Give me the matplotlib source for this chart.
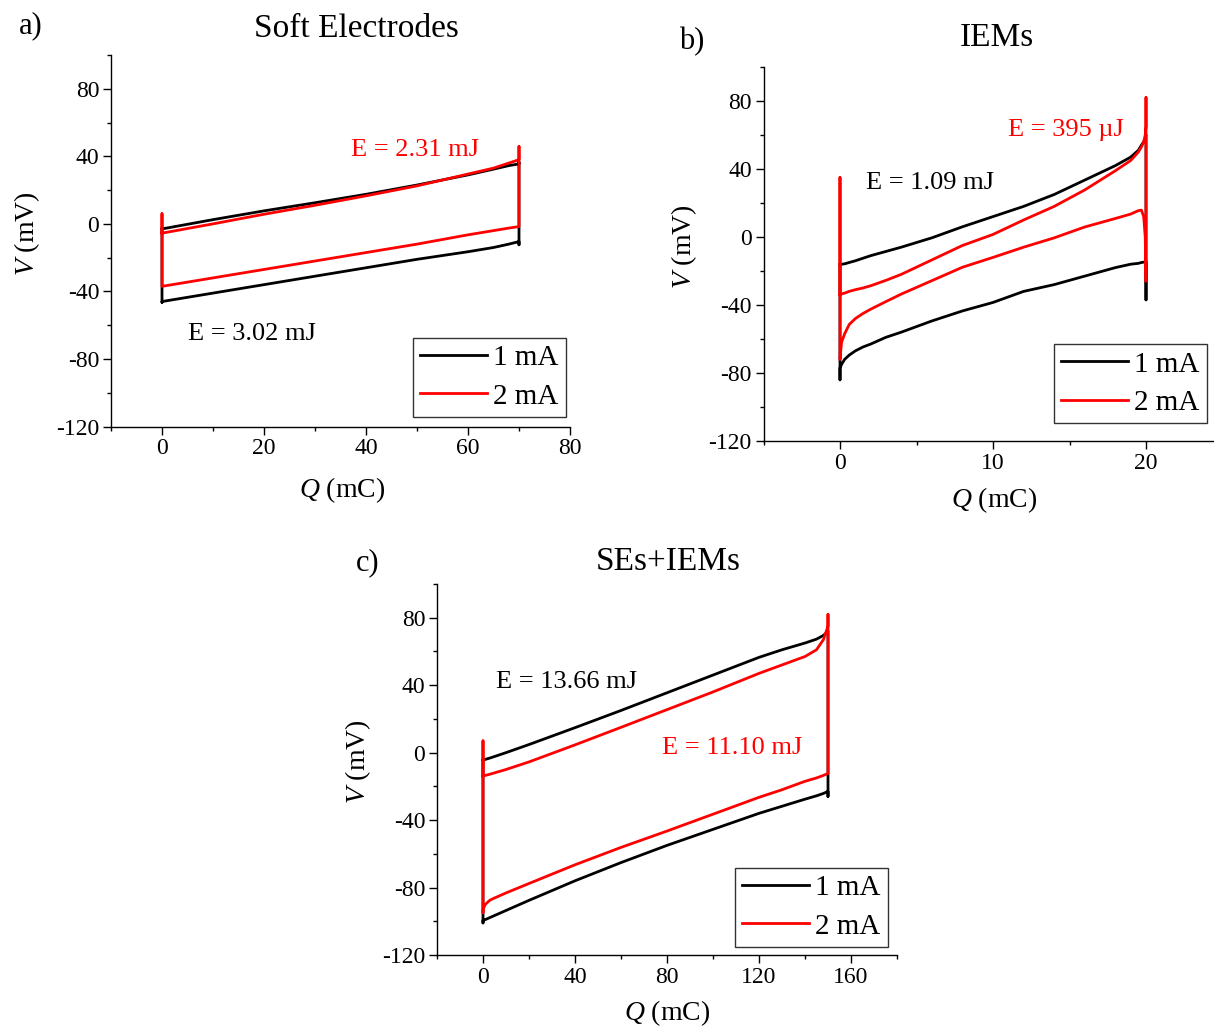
import matplotlib.pyplot as plt
from matplotlib.ticker import MultipleLocator

plt.rcParams['font.family'] = ['Liberation Serif', 'DejaVu Serif']
plt.rcParams['mathtext.fontset'] = 'custom'
plt.rcParams['mathtext.rm'] = 'Liberation Serif'
plt.rcParams['mathtext.it'] = 'Liberation Serif:italic'
plt.rcParams['axes.unicode_minus'] = False

# a) Soft Electrodes
qa = [0, 10, 20, 30, 40, 50, 60, 65, 68, 70]
a1_up = [-3, 2.5, 7.7, 12.5, 17.5, 23, 29, 32.4, 34.5, 35.5]
a1_dn = [-46, -41, -36, -31, -26, -21, -16.5, -14, -12, -10.5]
a2_up = [-5.5, 0, 5.7, 11, 16.6, 22.5, 29.5, 33, 36, 38]
a2_dn = [-37, -32, -27, -22, -17, -12, -6.5, -4, -2.5, -1.6]

# b) IEMs
qb = [0, 0.1, 0.3, 0.6, 1, 1.5, 2, 3, 4, 6, 8, 10, 12, 14, 16, 18, 19, 19.5, 19.7, 19.85, 19.95, 20]
b1_up = [-16.2, -16, -15.8, -15, -14, -12.5, -11, -8.5, -6, -0.5, 6, 12, 18, 25, 33.5, 42, 47,
         51, 54, 56, 58, 60]
b1_dn = [-77, -75, -72, -69.5, -67, -64.7, -63, -59, -56, -49.4, -43.5, -38.5, -32, -28, -23, -18,
         -16, -15.5, -15, -14.8, -14.6, -14.5]
b2_up = [-34, -33.5, -33, -32, -31, -30, -28.7, -25.5, -22, -13.5, -5, 1.5, 10, 18, 27.7, 39, 45,
         50, 53, 56, 60, 65]
b2_dn = [-72, -62, -57, -51.5, -48, -45, -42.5, -38, -33.6, -25.7, -17.8, -12, -6, -0.5, 5.9, 10.9,
         13.5, 15.5, 15.8, 12, 0, -26]

# c) SEs+IEMs
qc = [0, 1, 3, 5, 10, 20, 40, 60, 80, 100, 120, 130, 140, 145, 148, 150]
c1_up = [-4.4, -4, -3.2, -2.3, 0, 4.8, 14.8, 25, 35.5, 46, 56.5, 61, 65, 67.3, 69.5, 72]
c1_dn = [-99.5, -99, -97.8, -96.6, -93.6, -87.6, -76, -65.2, -55, -45.5, -36, -31.8, -27.6, -25.6, -24.2, -23]
c2_up = [-13.9, -13.5, -12.8, -12, -10, -5.5, 4.6, 15, 25.5, 36, 47, 52, 57, 61, 67, 75]
c2_dn = [-93, -90, -87.5, -86.2, -83.2, -77.6, -66.5, -56.2, -46.5, -36.5, -26.5, -22, -17, -15, -13.5, -12.3]

# voltage jumps at the end / start of each cycle
a1_jump = ([36.5, -12.4], [-46.5])
a2_jump = ([45.8], [6])
b1_jump = ([-37], [-84])
b2_jump = ([82], [35])
c1_jump = ([-26], [-101])
c2_jump = ([82], [-95, 7])


def cycle(q, up, dn, jumps):
    end_j, start_j = jumps
    qq = list(q) + [q[-1]] * len(end_j) + list(q[::-1]) + [q[0]] * len(start_j) + [q[0]]
    vv = list(up) + list(end_j) + list(dn[::-1]) + list(start_j) + [up[0]]
    return qq, vv


W, H = 1214, 1028
fig = plt.figure(figsize=(W / 100, H / 100), dpi=100)


def px_axes(x0, x1, y0, y1):
    return fig.add_axes([x0 / W, 1 - y1 / H, (x1 - x0) / W, (y1 - y0) / H])


def setup(ax, xlim, xmaj, xmin):
    ax.set_xlim(xlim)
    ax.set_ylim(-120, 100)
    ax.xaxis.set_major_locator(MultipleLocator(xmaj))
    ax.xaxis.set_minor_locator(MultipleLocator(xmin))
    ax.yaxis.set_major_locator(MultipleLocator(40))
    ax.yaxis.set_minor_locator(MultipleLocator(20))
    ax.spines['top'].set_visible(False)
    ax.spines['right'].set_visible(False)
    for s in ('left', 'bottom'):
        ax.spines[s].set_linewidth(1.0)
    ax.tick_params(which='major', direction='out', length=5.5, width=1, labelsize=17, pad=3)
    ax.tick_params(which='minor', direction='out', length=3, width=1)
    ax.set_xlabel(r'$\it{Q}$ (mC)', fontsize=20)
    ax.set_ylabel(r'$\it{V}$ (mV)', fontsize=20)


def draw(ax, curves, leg_anchor):
    (q, up1, dn1, j1), (q2, up2, dn2, j2) = curves
    x, y = cycle(q, up1, dn1, j1)
    ax.plot(x, y, color='black', lw=2, label='1 mA')
    x, y = cycle(q2, up2, dn2, j2)
    ax.plot(x, y, color='#ff0000', lw=2, label='2 mA')
    leg = ax.legend(loc='lower right', bbox_to_anchor=leg_anchor, borderaxespad=0,
                    fontsize=21, fancybox=False, handlelength=2.3, handletextpad=0.2,
                    borderpad=0.25, labelspacing=0.4, framealpha=1)
    leg.get_frame().set_edgecolor('#333333')
    leg.get_frame().set_linewidth(1.0)


# panel a
ax_a = px_axes(111, 570, 55, 426.5)
setup(ax_a, (-10, 80), 20, 10)
draw(ax_a, [(qa, a1_up, a1_dn, a1_jump), (qa, a2_up, a2_dn, a2_jump)], (0.991, 0.026))
ax_a.text(37, 44, 'E = 2.31 mJ', color='#ff0000', fontsize=19, va='center')
ax_a.text(5, -65, 'E = 3.02 mJ', color='black', fontsize=19, va='center')
ax_a.xaxis.set_label_coords(0.503, -0.13)
ax_a.yaxis.set_label_coords(-0.15, 0.52)

# panel b
ax_b = px_axes(763.5, 1222.5, 67, 441)
setup(ax_b, (-5, 25), 10, 5)
draw(ax_b, [(qb, b1_up, b1_dn, b1_jump), (qb, b2_up, b2_dn, b2_jump)], (0.966, 0.048))
ax_b.text(11, 63, 'E = 395 µJ', color='#ff0000', fontsize=19, va='center')
ax_b.text(1.7, 32, 'E = 1.09 mJ', color='black', fontsize=19, va='center')
ax_b.xaxis.set_label_coords(0.502, -0.117)
ax_b.yaxis.set_label_coords(-0.141, 0.52)

# panel c
ax_c = px_axes(437, 897, 584, 955)
setup(ax_c, (-20, 180), 40, 20)
draw(ax_c, [(qc, c1_up, c1_dn, c1_jump), (qc, c2_up, c2_dn, c2_jump)], (0.98, 0.022))
ax_c.text(5.7, 42, 'E = 13.66 mJ', color='black', fontsize=19, va='center')
ax_c.text(78, 3, 'E = 11.10 mJ', color='#ff0000', fontsize=19, va='center')
ax_c.xaxis.set_label_coords(0.5, -0.117)
ax_c.yaxis.set_label_coords(-0.139, 0.52)

# titles and panel letters
for txt, x, y in [('Soft Electrodes', 356, 29), ('IEMs', 997, 38), ('SEs+IEMs', 668, 562)]:
    fig.text(x / W, 1 - y / H, txt, ha='center', va='center', fontsize=24)
for txt, x, y in [('a)', 31, 26), ('b)', 692, 42), ('c)', 368, 563)]:
    fig.text(x / W, 1 - y / H, txt, ha='center', va='center', fontsize=22)

fig.savefig('out.png', dpi=100)
